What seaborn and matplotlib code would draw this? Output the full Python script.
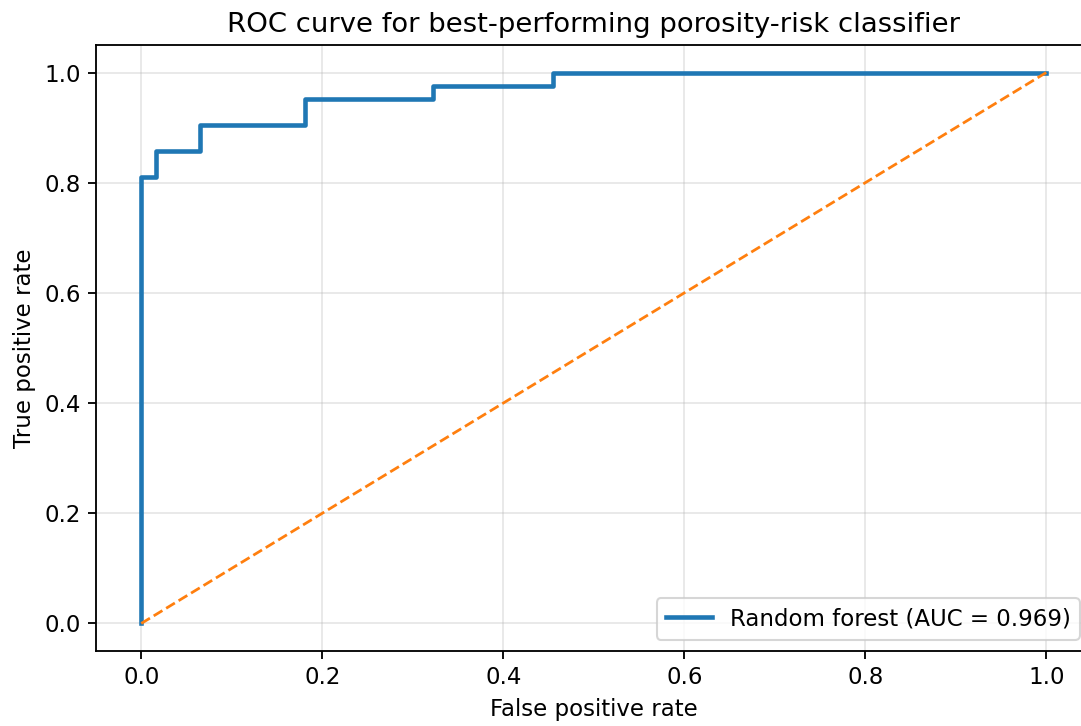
import matplotlib
matplotlib.use("Agg")
import matplotlib.pyplot as plt
import seaborn as sns
import pandas as pd

# ROC points (corner points of the step curve)
fpr = [0.0, 0.0, 0.016, 0.016, 0.065, 0.065, 0.181, 0.181, 0.322, 0.322, 0.455, 0.455, 1.0]
tpr = [0.0, 0.810, 0.810, 0.857, 0.857, 0.905, 0.905, 0.952, 0.952, 0.976, 0.976, 1.0, 1.0]
chance = [0.0, 1.0]
model_label = "Random forest (AUC = 0.969)"

roc_df = pd.DataFrame({"fpr": fpr, "tpr": tpr})
chance_df = pd.DataFrame({"x": chance, "y": chance})

s = 1.1
plt.rcParams.update({
    "font.size": 10 * s,
    "axes.titlesize": 12 * s,
    "axes.labelsize": 10 * s,
    "xtick.labelsize": 10 * s,
    "ytick.labelsize": 10 * s,
    "legend.fontsize": 10 * s,
    "axes.linewidth": 0.8 * s,
    "xtick.major.width": 0.8 * s,
    "ytick.major.width": 0.8 * s,
    "xtick.major.size": 3.5 * s,
    "ytick.major.size": 3.5 * s,
    "grid.linewidth": 0.8 * s,
})

fig = plt.figure(figsize=(1081 / 150, 726 / 150), dpi=150)
ax = fig.add_axes([96 / 1081, 75 / 726, 995.5 / 1081, 606 / 726])

sns.lineplot(data=roc_df, x="fpr", y="tpr", sort=False, estimator=None,
             color="#1f77b4", linewidth=2 * s, label=model_label, ax=ax)
sns.lineplot(data=chance_df, x="x", y="y", sort=False, estimator=None,
             color="#ff7f0e", linewidth=1.2 * s, linestyle="--", ax=ax)

ax.set_xlim(-0.05, 1.05)
ax.set_ylim(-0.05, 1.05)
ax.set_xlabel("False positive rate")
ax.set_ylabel("True positive rate")
ax.set_title("ROC curve for best-performing porosity-risk classifier")
ax.grid(True, alpha=0.3)
ax.spines["right"].set_visible(False)
ax.legend(loc="lower right")

fig.savefig("out.png", dpi=150)
